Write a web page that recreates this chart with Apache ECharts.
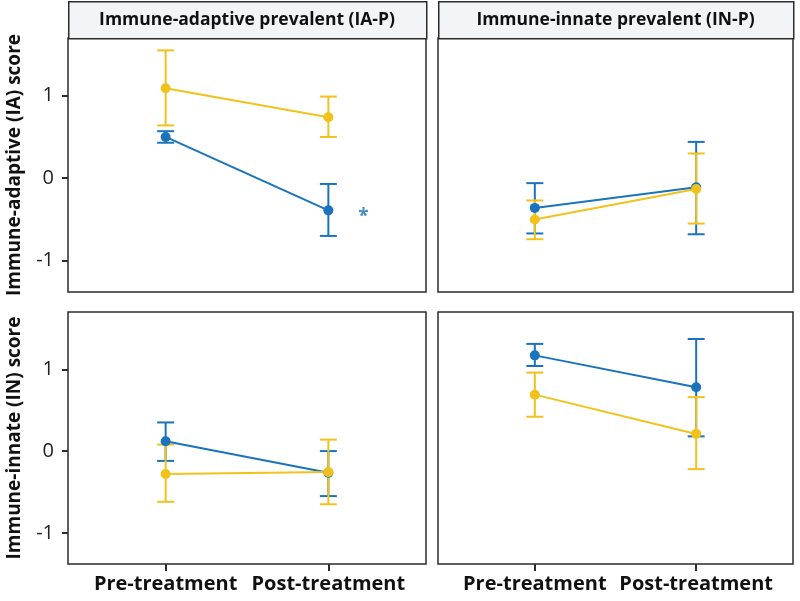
<!DOCTYPE html>
<html><head><meta charset="utf-8">
<script src="https://cdn.jsdelivr.net/npm/echarts@6/dist/echarts.min.js"></script>
<style>html,body{margin:0;padding:0;background:#fff}#c{width:800px;height:601px}</style>
</head><body><div id="c"></div>
<script>
const categories = ['Pre-treatment', 'Post-treatment'];
const stripTitles = ['Immune-adaptive prevalent (IA-P)', 'Immune-innate prevalent (IN-P)'];
const yTitles = ['Immune-adaptive (IA) score', 'Immune-innate (IN) score'];
const yTickValues = [-1, 0, 1];
const yRange = [-1.38, 1.70];

// panel order: [row][col]  row = score, col = group
const blueMean = [[[0.50, -0.39], [-0.36, -0.11]], [[0.12, -0.265], [1.17, 0.78]]];
const blueLow  = [[[0.43, -0.70], [-0.67, -0.68]], [[-0.12, -0.55], [1.04, 0.18]]];
const blueHigh = [[[0.57, -0.07], [-0.06, 0.44]], [[0.35, 0.00], [1.31, 1.37]]];
const yellowMean = [[[1.09, 0.74], [-0.50, -0.13]], [[-0.28, -0.255], [0.69, 0.21]]];
const yellowLow  = [[[0.64, 0.50], [-0.74, -0.55]], [[-0.62, -0.65], [0.42, -0.22]]];
const yellowHigh = [[[1.55, 0.99], [-0.27, 0.30]], [[0.08, 0.14], [0.96, 0.66]]];
// significance marker: panel row 0 col 0, at Post-treatment
const sigMarker = {row: 0, col: 0, cat: 1, value: -0.43, text: '*'};

const BLUE = '#1a73bb';
const YELLOW = '#f1c21c';
const FONT = "'Open Sans', sans-serif";
const TICK = '#2b2b2b';

const gridBoxes = [
  [{left: 68, top: 38, width: 358, height: 254}, {left: 438, top: 38, width: 355, height: 254}],
  [{left: 68, top: 312, width: 358, height: 252}, {left: 438, top: 312, width: 355, height: 252}]
];

const grids = [], xAxes = [], yAxes = [];
const errSeries = [], lineSeries = [];
let gi = 0;
for (let r = 0; r < 2; r++) {
  for (let c = 0; c < 2; c++) {
    const b = gridBoxes[r][c];
    grids.push(Object.assign({show: true, borderColor: '#2b2b2b', borderWidth: 1.5, backgroundColor: '#fff', containLabel: false}, b));
    xAxes.push({
      type: 'value', gridIndex: gi, min: 0.4, max: 2.6, position: 'bottom',
      axisLine: {show: false, onZero: false}, splitLine: {show: false},
      axisTick: {show: r === 1, customValues: [1, 2], length: 7, lineStyle: {color: TICK, width: 2}},
      axisLabel: {show: r === 1, customValues: [1, 2], margin: 10,
        formatter: v => categories[Math.round(v) - 1] || '',
        color: '#111', fontSize: 20, fontWeight: 'bold', fontFamily: FONT}
    });
    yAxes.push({
      type: 'value', gridIndex: gi, min: yRange[0], max: yRange[1], position: 'left',
      axisLine: {show: false, onZero: false}, splitLine: {show: false},
      axisTick: {show: c === 0, customValues: yTickValues, length: 6, lineStyle: {color: TICK, width: 2}},
      axisLabel: {show: c === 0, customValues: yTickValues, margin: 14,
        formatter: v => (v < 0 ? '-' : '') + Math.abs(v),
        color: '#222', fontSize: 20, fontFamily: FONT},
      name: c === 0 ? yTitles[r] : '', nameLocation: 'middle', nameRotate: 90, nameGap: 44,
      nameTextStyle: {color: '#111', fontSize: 19, fontWeight: 'bold', fontFamily: FONT}
    });
    const groups = [
      {mean: blueMean[r][c], lo: blueLow[r][c], hi: blueHigh[r][c], color: BLUE},
      {mean: yellowMean[r][c], lo: yellowLow[r][c], hi: yellowHigh[r][c], color: YELLOW}
    ];
    groups.forEach(g => {
      errSeries.push({
        type: 'custom', xAxisIndex: gi, yAxisIndex: gi, silent: true,
        data: categories.map((cat, i) => [i + 1, g.lo[i], g.hi[i]]),
        renderItem: (params, api) => {
          const x = api.value(0);
          const pLo = api.coord([x, api.value(1)]);
          const pHi = api.coord([x, api.value(2)]);
          const w = 8.5;
          const st = {stroke: g.color, lineWidth: 2, fill: null};
          return {type: 'group', children: [
            {type: 'line', shape: {x1: pLo[0], y1: pLo[1], x2: pHi[0], y2: pHi[1]}, style: st},
            {type: 'line', shape: {x1: pLo[0] - w, y1: pLo[1], x2: pLo[0] + w, y2: pLo[1]}, style: st},
            {type: 'line', shape: {x1: pHi[0] - w, y1: pHi[1], x2: pHi[0] + w, y2: pHi[1]}, style: st}
          ]};
        },
        z: 2
      });
      lineSeries.push({
        type: 'line', xAxisIndex: gi, yAxisIndex: gi, silent: true,
        data: categories.map((cat, i) => [i + 1, g.mean[i]]),
        symbol: 'circle', symbolSize: 10, showSymbol: true,
        lineStyle: {color: g.color, width: 2},
        itemStyle: {color: g.color},
        animation: false, z: 3
      });
    });
    if (sigMarker.row === r && sigMarker.col === c) {
      lineSeries.push({
        type: 'scatter', xAxisIndex: gi, yAxisIndex: gi, silent: true,
        data: [[sigMarker.cat + 1, sigMarker.value]],
        symbolSize: 0,
        label: {show: true, formatter: sigMarker.text, position: 'inside', offset: [35, 3],
          color: BLUE, fontSize: 19, fontWeight: 'bold', fontFamily: FONT},
        z: 4
      });
    }
    gi++;
  }
}

const graphics = [];
for (let c = 0; c < 2; c++) {
  const b = gridBoxes[0][c];
  graphics.push({
    type: 'rect', left: b.left, top: 1, shape: {width: b.width, height: 37},
    style: {fill: '#f3f4f6', stroke: '#2b2b2b', lineWidth: 1.5}, z: 10
  });
  graphics.push({
    type: 'text', x: b.left + b.width / 2, y: 20,
    style: {text: stripTitles[c], fill: '#111', font: "bold 17.5px " + FONT, align: 'center', verticalAlign: 'middle'}, z: 11
  });
}

const chart = echarts.init(document.getElementById('c'), null, {renderer: 'canvas'});
chart.setOption({
  animation: false,
  backgroundColor: '#fff',
  grid: grids, xAxis: xAxes, yAxis: yAxes,
  series: errSeries.concat(lineSeries),
  graphic: graphics
});
</script>
</body></html>
